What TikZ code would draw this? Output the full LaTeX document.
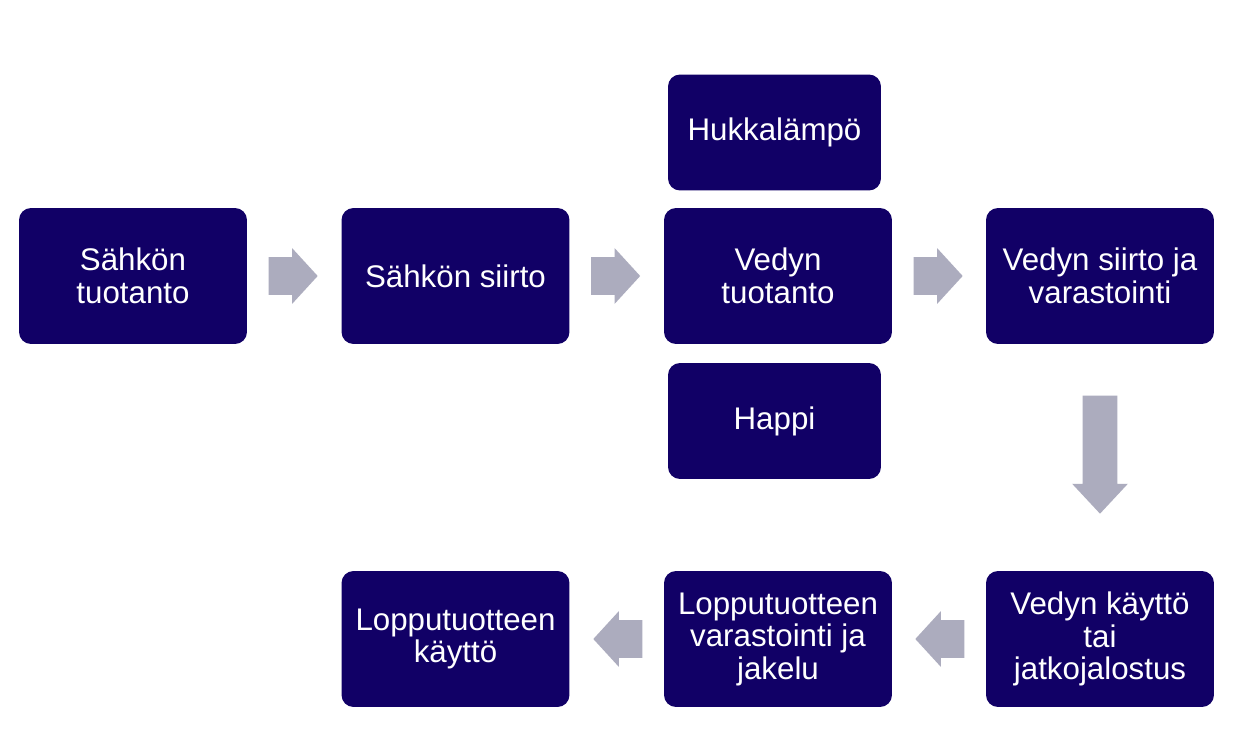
\documentclass[tikz,border=0pt]{standalone}
\usepackage{fontspec}
\setmainfont{Liberation Sans}
\usetikzlibrary{shapes.arrows,calc}
\definecolor{laatikko}{RGB}{17,0,102}
\definecolor{nuoli}{RGB}{172,172,190}
\tikzset{
  vaihe/.style={rectangle, rounded corners=0.24cm, fill=laatikko, text=white,
    minimum width=4.56cm, minimum height=2.72cm, align=center,
    font=\fontsize{17.8}{18.5}\selectfont},
  sivu/.style={vaihe, minimum width=4.26cm, minimum height=2.32cm},
  nuolikuva/.style={single arrow, fill=nuoli, draw=none, inner xsep=0pt,
    inner ysep=0.37cm, single arrow head extend=0.18cm,
    single arrow tip angle=95, minimum height=0.98cm, anchor=tail}
}
\begin{document}
\begin{tikzpicture}[x=0.02cm, y=-0.02cm]
        \useasboundingbox[fill=white] (0,0) rectangle (1255,747);

        % Ylarivi
        \node[vaihe] (tuotanto) at (133,276) {Sähkön\\tuotanto};
        \node[vaihe] (siirto) at (455.5,276) {Sähkön siirto};
        \node[vaihe] (vety) at (778,276) {Vedyn\\tuotanto};
        \node[vaihe] (varasto) at (1100,276) {Vedyn siirto ja\\varastointi};

        % Sivutuotteet
        \node[sivu] (hukka) at (774.5,132.5) {Hukkalämpö};
        \node[sivu] (happi) at (774.5,421) {Happi};

        % Alarivi
        \node[vaihe] (kaytto) at (1100,639) {Vedyn käyttö\\tai\\jatkojalostus};
        \node[vaihe] (jakelu) at (778,639) {Lopputuotteen\\varastointi ja\\jakelu};
        \node[vaihe] (loppu) at (455.5,639) {Lopputuotteen\\käyttö};

        % Nuolet
        \node[nuolikuva] (n1) at ($(tuotanto.east)+(21,0)$) {};
        \node[nuolikuva] (n2) at ($(siirto.east)+(21,0)$) {};
        \node[nuolikuva] (n3) at ($(vety.east)+(21,0)$) {};
        \node[nuolikuva, shape border rotate=270, inner ysep=0pt, inner xsep=0.34cm,
          single arrow head extend=0.21cm, single arrow tip angle=86,
          minimum height=2.36cm] (n4) at ($(varasto.south)+(0,51)$) {};
        \node[nuolikuva, shape border rotate=180] (n5) at ($(kaytto.west)+(-21,0)$) {};
        \node[nuolikuva, shape border rotate=180] (n6) at ($(jakelu.west)+(-21,0)$) {};

    \end{tikzpicture}
\end{document}
